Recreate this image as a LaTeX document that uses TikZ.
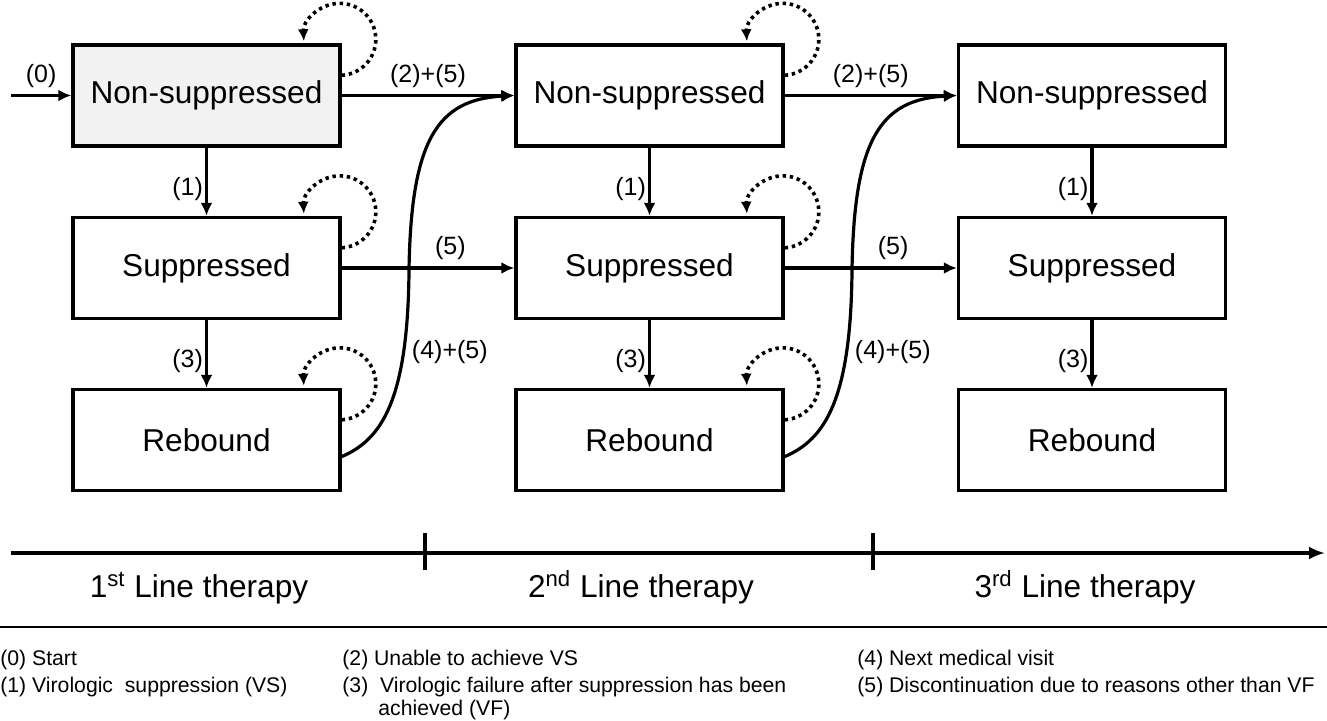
\documentclass[tikz,border=0pt]{standalone}
\usepackage{fontspec}
\setmainfont{Liberation Sans}
\usetikzlibrary{arrows.meta}

\begin{document}
\begin{tikzpicture}[x=0.5pt, y=0.5pt,
    statebox/.style={draw, line width=1.7pt, minimum width=133.5pt, minimum height=50.5pt, inner sep=0pt, font=\fontsize{15.8}{19}\selectfont},
    flow/.style={line width=1.6pt, -{Latex[length=6.5pt,width=6pt]}},
    stay/.style={line width=1.8pt, dash pattern=on 1.7pt off 1.9pt, -{Latex[length=6pt,width=5.5pt]}},
    lbl/.style={font=\fontsize{12.5}{15}\selectfont},
    phase/.style={anchor=base, inner sep=0pt, font=\fontsize{15.8}{19}\selectfont},
    leg/.style={anchor=base west, inner sep=0pt, font=\fontsize{10.6}{13}\selectfont}]
\useasboundingbox (0,0) rectangle (1327,-721);

% states of each line of therapy
\foreach \i/\x/\c in {1/206.5/gray!10, 2/649.5/white, 3/1092/white}{
    \node[statebox, fill=\c] (ns\i) at (\x,-95.5) {Non-suppressed};
    \node[statebox] (sp\i) at (\x,-268) {Suppressed};
    \node[statebox] (rb\i) at (\x,-440) {Rebound};
    \draw[flow] (ns\i) -- node[left,lbl,inner sep=1pt,pos=0.6] {(1)} (sp\i);
    \draw[flow] (sp\i) -- node[left,lbl,inner sep=1pt,pos=0.6] {(3)} (rb\i);
}

% staying in the same state
\foreach \i in {1,2}
    \foreach \n in {ns,sp,rb}
        \draw[stay] ([yshift=-16pt]\n\i.north east) arc[start angle=-87, end angle=183, radius=36];

% start
\coordinate (in) at (11,-95.5);
\draw[flow] (in) -- node[above,lbl] {(0)} (ns1.west);

% switching to the next line
\foreach \i/\j/\x in {1/2/409, 2/3/852}{
    \coordinate (bend\i) at (\x,-270);
    \draw[flow] (ns\i) -- node[above,lbl] {(2)+(5)} (ns\j);
    \draw[flow] (sp\i) -- node[above,lbl,pos=0.63] {(5)} (sp\j);
    \draw[flow] (rb\i.-7) .. controls +(40,17) and +(-1,-130) .. (bend\i)
        node[right,lbl,pos=0.75] {(4)+(5)}
        .. controls +(2,130) and +(-77,-4) .. (ns\j.west);
}

% time line
\coordinate (t0) at (11,-553);
\coordinate (t1) at (1325,-553);
\draw[line width=1.6pt, -{Latex[length=8pt,width=6.5pt]}] (t0) -- (t1);
\foreach \x in {425, 873}
    \draw[shift={(\x,-553)}, line width=1.6pt] (0,20) -- (0,-17);
\node[phase] (ph1) at (199,-597) {1\textsuperscript{st} Line therapy};
\node[phase] (ph2) at (641,-597) {2\textsuperscript{nd} Line therapy};
\node[phase] (ph3) at (1085,-597) {3\textsuperscript{rd} Line therapy};

% legend
\coordinate (s0) at (0,-627);
\coordinate (s1) at (1327,-627);
\draw[line width=1pt] (s0) -- (s1);
\node[leg] (leg0) at (0,-665) {(0) Start};
\node[leg] (leg1) at (0,-692) {(1) Virologic\ \ suppression (VS)};
\node[leg] (leg2) at (342,-665) {(2) Unable to achieve VS};
\node[leg] (leg3) at (342,-692) {(3)\ \ Virologic failure after suppression has been};
\node[leg] (leg3b) at (378,-715) {achieved (VF)};
\node[leg] (leg4) at (857,-665) {(4) Next medical visit};
\node[leg] (leg5) at (857,-692) {(5) Discontinuation due to reasons other than VF};
\end{tikzpicture}
\end{document}
